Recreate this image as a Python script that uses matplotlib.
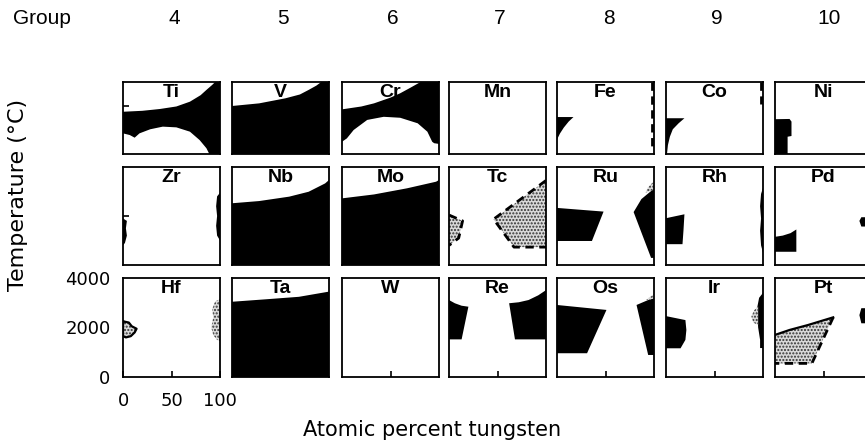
import matplotlib.pyplot as plt

plt.rcParams['font.family'] = ['DejaVu Sans']
plt.rcParams['hatch.linewidth'] = 1.0

groups = ['4', '5', '6', '7', '8', '9', '10']
elements = [['Ti', 'V', 'Cr', 'Mn', 'Fe', 'Co', 'Ni'],
            ['Zr', 'Nb', 'Mo', 'Tc', 'Ru', 'Rh', 'Pd'],
            ['Hf', 'Ta', 'W', 'Re', 'Os', 'Ir', 'Pt']]
row_tmax = [3000, 4000, 4000]

# shapes as (atomic % W, temperature degC)
ti_black = [(0, 1760), (20, 1800), (38, 1875), (55, 1980), (69, 2180), (80, 2450), (86, 2670),
            (92, 2880), (95, 3000), (100, 3000), (100, 0), (89, 0), (86, 240), (79, 580),
            (69, 930), (55, 1110), (41, 1140), (28, 1030), (17, 860), (12, 680), (7, 790), (0, 860)]
v_black = [(0, 2000), (28, 2110), (55, 2320), (70, 2480), (79, 2670), (87, 2850), (92, 3000),
           (100, 3000), (100, 0), (0, 0)]
cr_black = [(0, 1860), (20, 1980), (33, 2110), (50, 2350), (60, 2530), (70, 2750), (81, 3000),
            (100, 3000), (100, 420), (95, 450), (93, 510), (88, 930), (78, 1280), (60, 1510),
            (43, 1550), (26, 1420), (12, 1000), (5, 650), (0, 510)]
fe_black = [(0, 1540), (17, 1540), (12, 1350), (7, 1100), (3, 850), (0, 600)]
fe_dash = [(97.5, 3000), (97.5, 300)]
co_black = [(0, 1490), (19, 1490), (13, 1280), (7, 1030), (4, 720), (2, 375), (1, 0), (0, 0)]
co_dash = [(97.7, 3000), (97.7, 2100)]
ni_black = [(0, 1450), (15, 1460), (17, 1350), (17, 750), (13, 720), (13, 0), (0, 0)]

zr_left = [(0, 1900), (4, 1800), (3, 1500), (4, 1200), (2, 900), (0, 800)]
zr_right = [(100, 2950), (97, 2800), (96, 2400), (97, 2000), (96, 1600), (97, 1200), (100, 1000)]
nb_black = [(0, 2520), (28, 2610), (59, 2790), (79, 2990), (96, 3330), (100, 3470), (100, 0), (0, 0)]
mo_black = [(0, 2720), (33, 2880), (67, 3130), (97, 3400), (100, 3470), (100, 0), (0, 0)]
tc_right = [(100, 3450), (46, 1870), (67, 730), (100, 730)]
tc_left = [(0, 2040), (14, 1800), (10, 1100), (0, 800)]
ru_left = [(0, 2330), (48, 2180), (36, 980), (0, 980)]
ru_right = [(79, 2160), (87, 2690), (97, 3020), (100, 3100), (100, 290), (97, 290)]
ru_dots = [(91, 2950), (94, 3180), (100, 3420), (100, 3100), (97, 3020)]
rh_left = [(0, 1910), (19, 2070), (18, 1400), (17, 850), (0, 850)]
rh_right = [(100, 3150), (98, 2900), (97, 2400), (98, 1900), (97, 1400), (98, 800), (100, 500)]
pd_left = [(0, 1150), (8, 1200), (16, 1300), (20, 1400), (22, 1450), (22, 540), (0, 540)]
pd_right = [(89, 1950), (87, 1800), (89, 1570), (100, 1570), (100, 1950)]

hf_left = [(0, 2250), (6, 2200), (9, 2050), (14, 1950), (12, 1800), (8, 1650), (3, 1600), (0, 1650)]
hf_right = [(100, 3150), (95, 3050), (92, 2750), (93, 2400), (91, 2000), (93, 1700), (97, 1500), (100, 1450)]
ta_black = [(0, 3040), (35, 3140), (69, 3240), (100, 3450), (100, 0), (0, 0)]
re_left = [(0, 3110), (6, 2980), (13, 2880), (20, 2840), (13, 1520), (0, 1520)]
re_right = [(62, 2980), (72, 3020), (82, 3110), (92, 3300), (100, 3510), (100, 1520), (68, 1520)]
os_left = [(0, 2910), (51, 2710), (31, 960), (0, 960)]
os_right = [(82, 2910), (94, 3110), (100, 3180), (100, 890), (94, 890)]
os_dots = [(92, 3120), (100, 3350), (100, 3180), (94, 3110)]
ir_left = [(0, 2460), (20, 2300), (21, 1900), (20, 1500), (15, 1160), (0, 1160)]
ir_right = [(100, 3400), (96, 3200), (94, 2800), (95, 2000), (97, 1500), (97, 1170), (100, 1170)]
ir_dots = [(95, 2850), (91, 2700), (88, 2450), (90, 2200), (95, 2100)]
pt_dots = [(0, 1700), (15, 1900), (34, 2100), (60, 2410), (38, 550), (0, 550)]
pt_top = [(0, 1700), (15, 1900), (34, 2100), (60, 2410)]
pt_edge = [(60, 2410), (38, 550), (0, 550)]
pt_right = [(89, 2780), (87, 2500), (89, 2170), (100, 2170), (100, 2780)]

shapes = {
    'Ti': [('fill', ti_black)], 'V': [('fill', v_black)], 'Cr': [('fill', cr_black)],
    'Mn': [], 'Fe': [('fill', fe_black), ('dash', fe_dash)],
    'Co': [('fill', co_black), ('dash', co_dash)], 'Ni': [('fill', ni_black)],
    'Zr': [('fill', zr_left), ('fill', zr_right)], 'Nb': [('fill', nb_black)],
    'Mo': [('fill', mo_black)],
    'Tc': [('dots', tc_right), ('dash', tc_right), ('dots', tc_left), ('dash', tc_left)],
    'Ru': [('fill', ru_left), ('fill', ru_right), ('dots', ru_dots)],
    'Rh': [('fill', rh_left), ('fill', rh_right)], 'Pd': [('fill', pd_left), ('fill', pd_right)],
    'Hf': [('dots', hf_left), ('line', hf_left), ('dots', hf_right)], 'Ta': [('fill', ta_black)],
    'W': [], 'Re': [('fill', re_left), ('fill', re_right)],
    'Os': [('fill', os_left), ('fill', os_right), ('dots', os_dots)],
    'Ir': [('fill', ir_left), ('fill', ir_right), ('dots', ir_dots)],
    'Pt': [('dots', pt_dots), ('line', pt_top), ('dash', pt_edge), ('fill', pt_right)],
}

# layout in pixels
W, H = 865, 442
col_left = [123, 232, 342, 449, 557, 666, 775]
panel_w = 97
row_top = [82, 167, 278]
row_h = [72, 98, 99]
group_x = [174, 283, 393, 500, 609, 717, 829]

fig = plt.figure(figsize=(W / 100, H / 100), dpi=100)

for r, row in enumerate(elements):
    for c, sym in enumerate(row):
        ax = fig.add_axes([col_left[c] / W, 1 - (row_top[r] + row_h[r]) / H,
                           panel_w / W, row_h[r] / H])
        ax.set_xlim(0, 100)
        ax.set_ylim(0, row_tmax[r])
        for kind, pts in shapes[sym]:
            xs = [p[0] for p in pts]
            ys = [p[1] for p in pts]
            if kind == 'fill':
                ax.fill(xs, ys, color='black', lw=0)
            elif kind == 'dots':
                ax.fill(xs, ys, facecolor='0.85', edgecolor='0.2', hatch='.....', lw=0)
            elif kind == 'line':
                closed = len(xs) > 4
                ax.plot(xs + xs[:1] * closed, ys + ys[:1] * closed, color='black', lw=1.6)
            elif kind == 'dash':
                ax.plot(xs, ys, color='black', lw=2, ls=(0, (3, 2)))
        ax.text(50, row_tmax[r] * 0.975, sym, ha='center', va='top', fontsize=14,
                family='Liberation Sans', weight='bold')
        for s in ax.spines.values():
            s.set_linewidth(1.3)
        ax.set_xticks([])
        ax.set_yticks([])
        if r == 2:
            ax.set_xticks([50])
            ax.set_xticklabels([])
            ax.tick_params(axis='x', direction='in', length=4, width=1.2)
        if (r, c) in [(0, 0), (1, 0)]:
            ax.set_yticks([2000])
            ax.set_yticklabels([])
            ax.tick_params(axis='y', direction='in', length=4, width=1.2)
        if (r, c) == (2, 0):
            ax.set_xticks([0, 50, 100])
            ax.set_xticklabels(['0', '50', '100'])
            ax.set_yticks([0, 2000, 4000])
            ax.set_yticklabels(['0', '2000', '4000'])
            ax.tick_params(axis='x', direction='in', length=4, width=1.2, pad=11, labelsize=13)
            ax.tick_params(axis='y', direction='in', length=0, pad=9, labelsize=13)

fig.text(42 / W, 1 - 18 / H, 'Group', ha='center', va='center', fontsize=15,
         family='Liberation Sans')
for gx, g in zip(group_x, groups):
    fig.text(gx / W, 1 - 18 / H, g, ha='center', va='center', fontsize=15,
             family='Liberation Sans')

fig.text(432 / W, 1 - 430 / H, 'Atomic percent tungsten', ha='center', va='center', fontsize=15)
fig.text(18 / W, 1 - 195 / H, 'Temperature (°C)', ha='center', va='center', fontsize=16,
         rotation=90)

fig.savefig('out.png', dpi=100)
